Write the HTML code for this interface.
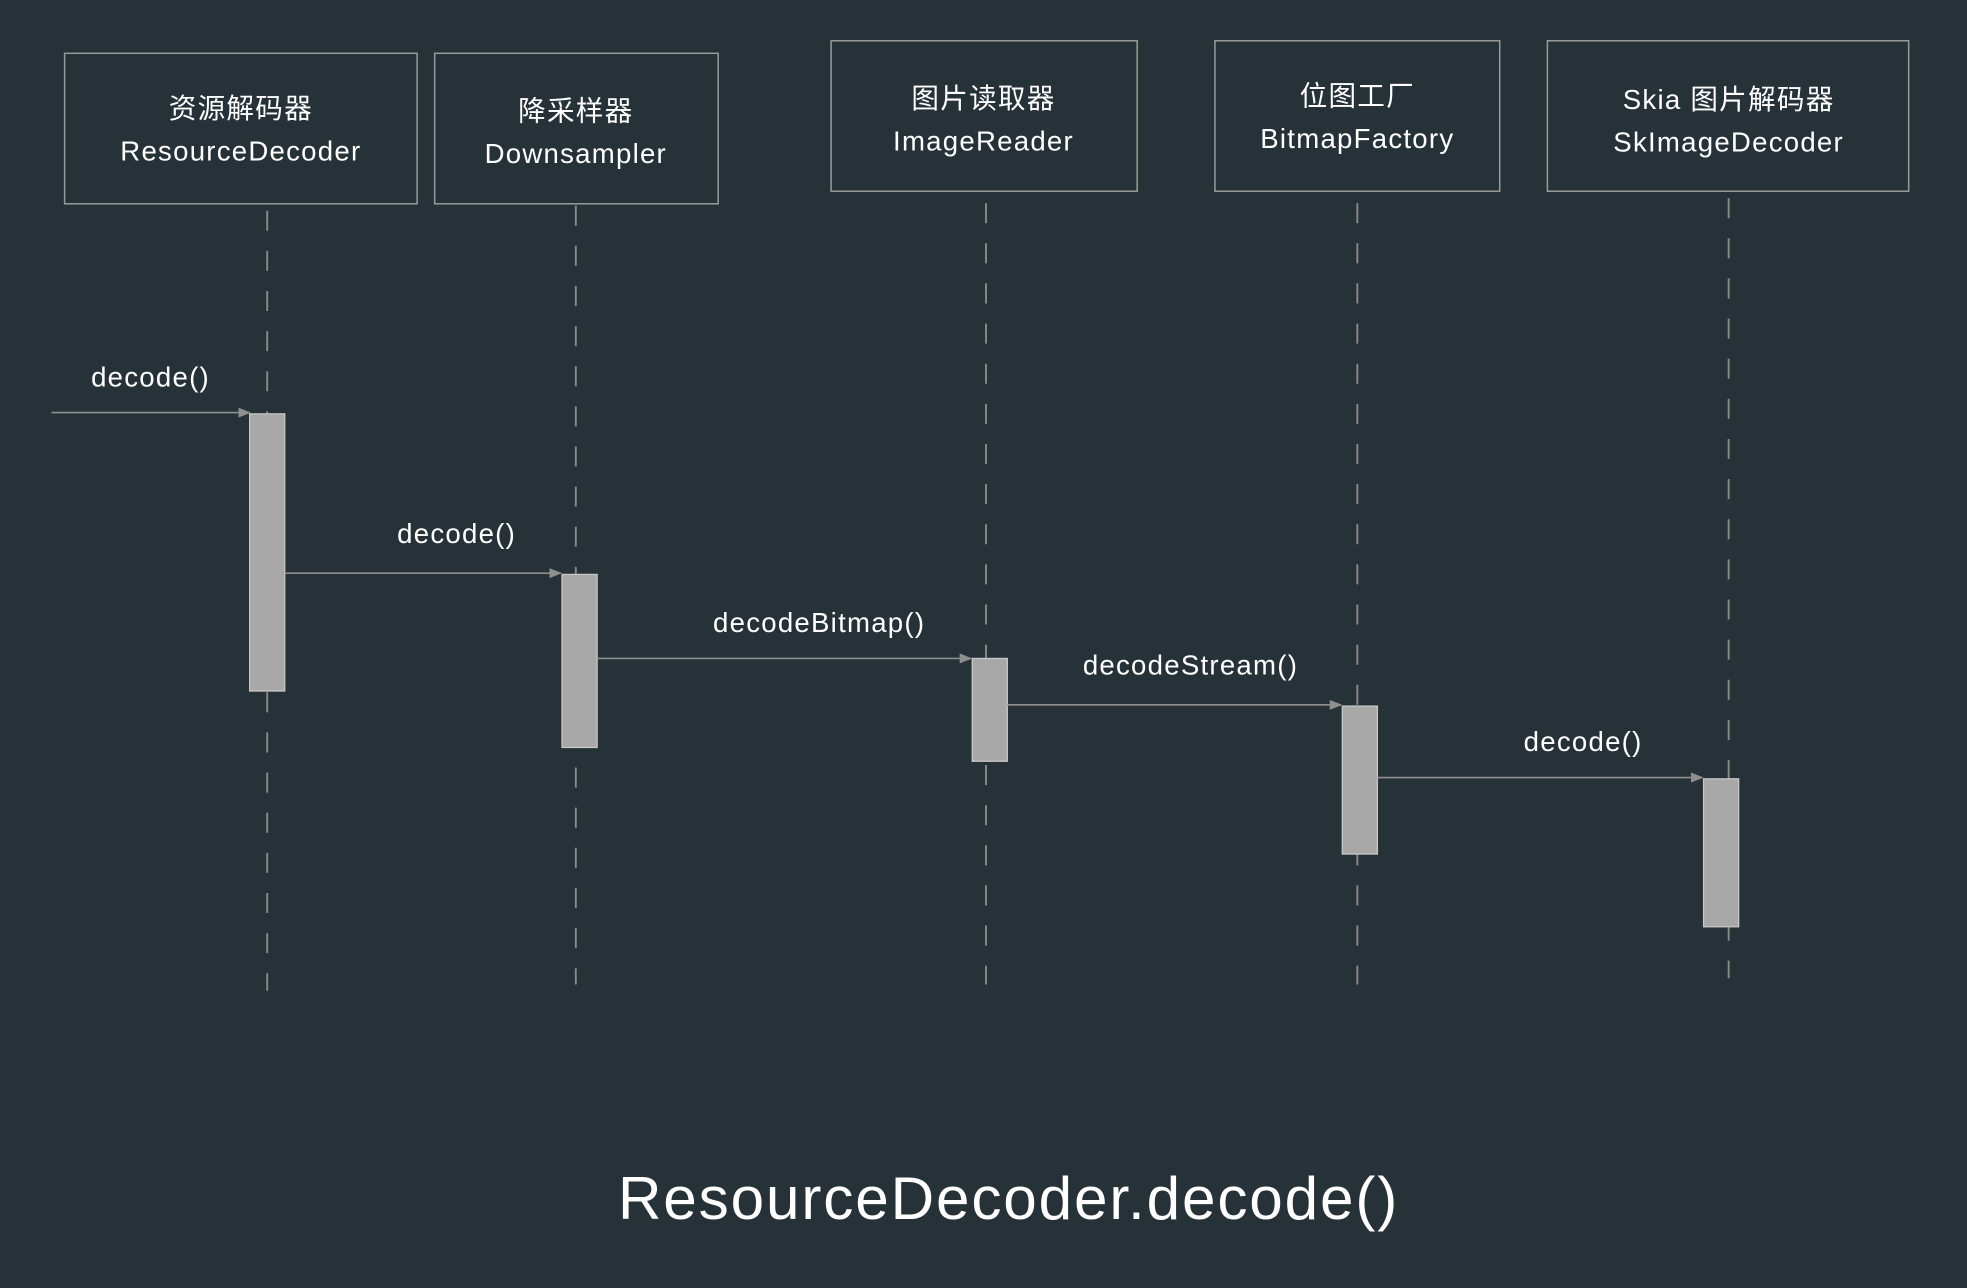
<!DOCTYPE html>
<html><head><meta charset="utf-8"><style>
html,body{margin:0;padding:0;background:#263238;}
svg{display:block;}
text{font-family:"Liberation Sans","Noto Sans CJK SC",sans-serif;fill:#ffffff;text-anchor:middle;}
</style></head><body>
<svg width="1967" height="1288" viewBox="0 0 1568 1027" preserveAspectRatio="none" xmlns="http://www.w3.org/2000/svg">
<rect width="1568" height="1027" fill="#263238"/>
<defs><marker id="a" markerWidth="10" markerHeight="8" refX="9" refY="4" orient="auto" markerUnits="userSpaceOnUse"><path d="M0,0 L10,4 L0,8 z" fill="#8f8f8f"/></marker></defs>
<g fill="none" stroke="#9a9a9a" stroke-width="1.2">
<rect x="51.5" y="42.5" width="281" height="120"/>
<rect x="346.5" y="42.5" width="226" height="120"/>
<rect x="662.5" y="32.5" width="244" height="120"/>
<rect x="968.5" y="32.5" width="227" height="120"/>
<rect x="1233.5" y="32.5" width="288" height="120"/>
</g>
<g stroke="#8a8a8a" stroke-width="1.5" stroke-dasharray="16,16">
<line x1="213" y1="168" x2="213" y2="790"/>
<line x1="459" y1="164" x2="459" y2="785"/>
<line x1="786" y1="162" x2="786" y2="785"/>
<line x1="1082" y1="162" x2="1082" y2="785"/>
<line x1="1378" y1="158" x2="1378" y2="780"/>
</g>
<g fill="#a8a8a8" stroke="#c8c8c8" stroke-width="1">
<rect x="199" y="330" width="28" height="221"/>
<rect x="448" y="458" width="28" height="138"/>
<rect x="775" y="525" width="28" height="82"/>
<rect x="1070" y="563" width="28" height="118"/>
<rect x="1358" y="621" width="28" height="118"/>
</g>
<g stroke="#8f8f8f" stroke-width="1.3" marker-end="url(#a)">
<line x1="41" y1="329" x2="199" y2="329"/>
<line x1="227" y1="457" x2="447" y2="457"/>
<line x1="476" y1="525" x2="774" y2="525"/>
<line x1="803" y1="562" x2="1069" y2="562"/>
<line x1="1098" y1="620" x2="1357" y2="620"/>
</g>
<g font-size="22" letter-spacing="1">
<text x="192" y="94">资源解码器</text>
<text x="192" y="128">ResourceDecoder</text>
<text x="459" y="96">降采样器</text>
<text x="459" y="130">Downsampler</text>
<text x="784" y="86">图片读取器</text>
<text x="784" y="120">ImageReader</text>
<text x="1082" y="84">位图工厂</text>
<text x="1082" y="118">BitmapFactory</text>
<text x="1378" y="87">Skia 图片解码器</text>
<text x="1378" y="121">SkImageDecoder</text>
<text x="120" y="308">decode()</text>
<text x="364" y="433">decode()</text>
<text x="653" y="504">decodeBitmap()</text>
<text x="949" y="538">decodeStream()</text>
<text x="1262" y="599">decode()</text>
</g>
<text x="804" y="972" font-size="48" letter-spacing="1.5">ResourceDecoder.decode()</text>
</svg>
</body></html>
